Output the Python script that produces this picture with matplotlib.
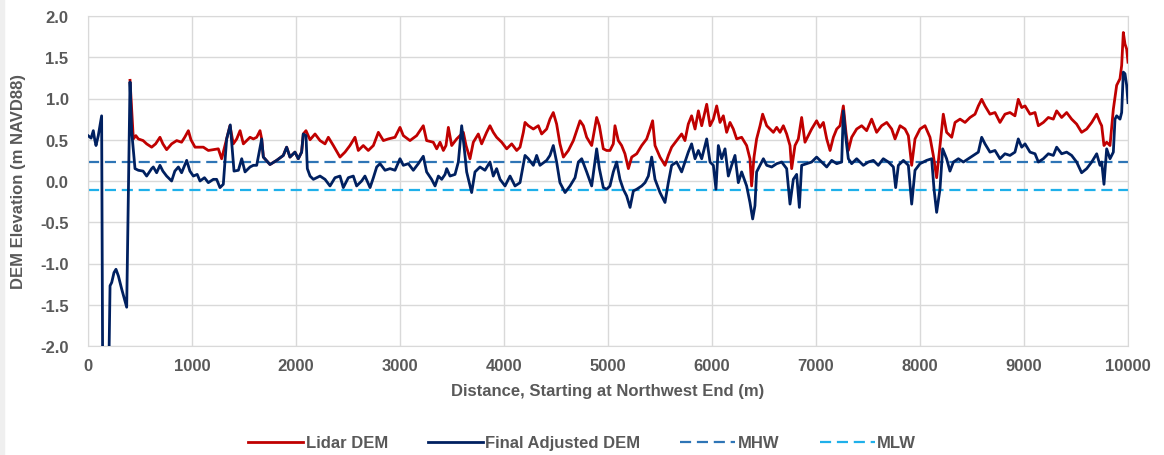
import matplotlib
matplotlib.use("Agg")
import matplotlib.pyplot as plt
from matplotlib.patches import Rectangle

# === DATA ===
adj_x = [0, 30, 51, 65, 77, 99, 131, 141, 200, 212, 228, 250, 269, 292, 324, 372, 404, 420,
         452, 484, 530, 564, 612, 628, 660, 692, 720, 756, 804, 835, 869, 900, 949, 980,
         1013, 1050, 1077, 1120, 1157, 1205, 1237, 1269, 1301, 1333, 1368, 1404, 1446, 1478,
         1510, 1558, 1590, 1622, 1670, 1686, 1750, 1814, 1878, 1910, 1942, 1990, 2022, 2054,
         2070, 2096, 2109, 2135, 2167, 2231, 2279, 2327, 2375, 2423, 2455, 2503, 2551, 2583,
         2631, 2663, 2712, 2744, 2776, 2808, 2856, 2904, 2952, 3000, 3032, 3080, 3128, 3176,
         3224, 3256, 3304, 3337, 3369, 3401, 3433, 3449, 3481, 3529, 3561, 3593, 3615, 3641,
         3689, 3721, 3769, 3817, 3865, 3897, 3929, 3962, 4010, 4058, 4106, 4154, 4202, 4234,
         4282, 4314, 4346, 4410, 4442, 4474, 4506, 4538, 4587, 4635, 4683, 4715, 4747, 4795,
         4843, 4891, 4917, 4955, 4987, 5019, 5051, 5083, 5115, 5147, 5179, 5212, 5244, 5276,
         5324, 5356, 5388, 5420, 5452, 5500, 5548, 5580, 5612, 5660, 5708, 5740, 5772, 5804,
         5837, 5869, 5901, 5949, 5981, 6013, 6038, 6061, 6093, 6125, 6157, 6189, 6221, 6253,
         6285, 6333, 6365, 6391, 6413, 6429, 6462, 6494, 6526, 6574, 6622, 6670, 6718, 6750,
         6782, 6814, 6840, 6862, 6910, 6958, 7006, 7055, 7103, 7151, 7199, 7247, 7263, 7288,
         7311, 7343, 7391, 7455, 7503, 7551, 7599, 7647, 7696, 7744, 7766, 7792, 7840, 7888,
         7920, 7952, 8000, 8064, 8112, 8135, 8160, 8192, 8218, 8256, 8288, 8321, 8369, 8417,
         8465, 8513, 8561, 8593, 8625, 8673, 8721, 8769, 8817, 8865, 8913, 8945, 8978, 9010,
         9058, 9106, 9138, 9186, 9234, 9282, 9314, 9362, 9410, 9458, 9506, 9554, 9603, 9651,
         9699, 9731, 9747, 9769, 9795, 9827, 9859, 9875, 9891, 9923, 9939, 9955, 9971, 9987,
         10000]
adj_y = [0.55, 0.52, 0.61, 0.50, 0.43, 0.55, 0.79, -2.3, -2.3, -1.27, -1.23, -1.11, -1.07, -1.15,
         -1.31, -1.53, 1.20, 0.60, 0.15, 0.13, 0.12, 0.06, 0.15, 0.17, 0.10, 0.19, 0.12, 0.06,
         0.00, 0.12, 0.17, 0.10, 0.25, 0.12, 0.06, 0.08, 0.00, 0.04, -0.02, 0.02, 0.02, -0.08,
         -0.04, 0.51, 0.68, 0.12, 0.13, 0.27, 0.11, 0.17, 0.19, 0.19, 0.51, 0.29, 0.20, 0.25,
         0.31, 0.41, 0.29, 0.35, 0.27, 0.35, 0.57, 0.55, 0.15, 0.06, 0.02, 0.06, 0.02, -0.06,
         0.04, 0.06, -0.08, 0.04, 0.06, -0.06, 0.00, 0.06, -0.08, 0.04, 0.17, 0.21, 0.13, 0.15,
         0.13, 0.27, 0.19, 0.21, 0.13, 0.21, 0.30, 0.11, 0.02, -0.06, 0.06, 0.02, 0.08, 0.15,
         0.06, 0.08, 0.23, 0.67, 0.43, 0.11, -0.14, 0.11, 0.17, 0.13, 0.23, 0.06, 0.15, 0.02,
         -0.06, 0.06, -0.06, -0.02, 0.31, 0.27, 0.19, 0.31, 0.19, 0.25, 0.31, 0.43, 0.23, -0.02,
         -0.14, -0.06, 0.04, 0.23, 0.27, 0.11, -0.06, 0.39, 0.15, -0.08, -0.10, -0.06, 0.11,
         0.23, 0.02, -0.10, -0.18, -0.32, -0.12, -0.10, -0.06, -0.02, 0.06, 0.29, 0.02, -0.14,
         -0.26, -0.02, 0.19, 0.23, 0.11, 0.23, 0.35, 0.45, 0.27, 0.37, 0.27, 0.51, 0.23, 0.19,
         -0.10, 0.43, 0.27, 0.39, 0.06, 0.19, 0.31, -0.02, 0.11, -0.06, -0.26, -0.46, -0.30,
         0.11, 0.19, 0.27, 0.19, 0.17, 0.21, 0.23, 0.15, -0.28, 0.02, 0.08, -0.32, 0.19, 0.21,
         0.23, 0.29, 0.23, 0.17, 0.25, 0.21, 0.23, 0.85, 0.51, 0.27, 0.21, 0.27, 0.19, 0.23,
         0.25, 0.19, 0.27, 0.23, 0.17, -0.08, 0.19, 0.25, 0.19, -0.28, 0.13, 0.21, 0.25, 0.27,
         -0.10, -0.38, -0.10, 0.39, 0.27, 0.12, 0.23, 0.27, 0.23, 0.27, 0.31, 0.35, 0.53, 0.45,
         0.35, 0.37, 0.27, 0.33, 0.31, 0.35, 0.51, 0.41, 0.45, 0.35, 0.33, 0.23, 0.27, 0.33,
         0.31, 0.41, 0.33, 0.35, 0.31, 0.23, 0.10, 0.15, 0.23, 0.33, 0.19, 0.23, -0.04, 0.39,
         0.27, 0.35, 0.75, 0.79, 0.75, 0.83, 1.32, 1.30, 1.16, 0.95]

lidar_x = [404, 436, 460, 484, 530, 564, 612, 650, 692, 720, 756, 804, 853, 900, 930, 965, 990,
           1029, 1077, 1109, 1157, 1205, 1253, 1285, 1301, 1340, 1365, 1397, 1430, 1462, 1494,
           1526, 1558, 1590, 1622, 1654, 1670, 1686, 1750, 1814, 1878, 1910, 1942, 1990, 2022,
           2054, 2070, 2096, 2135, 2183, 2231, 2279, 2311, 2359, 2423, 2471, 2519, 2567, 2599,
           2647, 2695, 2744, 2792, 2840, 2888, 2952, 3000, 3032, 3096, 3160, 3224, 3256, 3320,
           3353, 3385, 3417, 3442, 3465, 3497, 3545, 3577, 3609, 3635, 3673, 3705, 3753, 3785,
           3833, 3865, 3897, 3929, 3978, 4026, 4074, 4122, 4154, 4186, 4202, 4234, 4282, 4330,
           4362, 4410, 4442, 4474, 4506, 4538, 4571, 4619, 4667, 4699, 4731, 4763, 4795, 4843,
           4891, 4917, 4955, 4987, 5019, 5051, 5067, 5099, 5131, 5163, 5196, 5228, 5276, 5324,
           5372, 5404, 5429, 5452, 5500, 5548, 5580, 5612, 5660, 5708, 5740, 5772, 5804, 5837,
           5869, 5901, 5949, 5981, 6013, 6045, 6077, 6109, 6141, 6173, 6205, 6237, 6285, 6333,
           6365, 6381, 6404, 6429, 6462, 6487, 6526, 6558, 6590, 6622, 6654, 6686, 6718, 6750,
           6766, 6798, 6830, 6862, 6894, 6926, 6958, 7006, 7038, 7071, 7103, 7135, 7167, 7199,
           7231, 7263, 7288, 7311, 7343, 7391, 7439, 7487, 7535, 7583, 7631, 7680, 7728, 7760,
           7808, 7856, 7888, 7920, 7952, 8000, 8048, 8096, 8128, 8160, 8192, 8224, 8256, 8305,
           8337, 8385, 8433, 8481, 8529, 8561, 8593, 8625, 8673, 8721, 8769, 8817, 8865, 8913,
           8945, 8978, 9010, 9058, 9106, 9138, 9186, 9234, 9282, 9314, 9362, 9410, 9458, 9506,
           9554, 9603, 9651, 9699, 9731, 9747, 9769, 9795, 9827, 9859, 9891, 9923, 9939, 9955,
           9971, 9987, 10000]
lidar_y = [1.22, 0.51, 0.55, 0.51, 0.49, 0.45, 0.41, 0.45, 0.53, 0.45, 0.38, 0.45, 0.49, 0.47,
           0.53, 0.61, 0.50, 0.41, 0.41, 0.41, 0.37, 0.38, 0.39, 0.27, 0.35, 0.55, 0.67, 0.45,
           0.51, 0.61, 0.45, 0.49, 0.53, 0.51, 0.53, 0.61, 0.51, 0.29, 0.20, 0.25, 0.31, 0.41,
           0.29, 0.35, 0.27, 0.35, 0.57, 0.61, 0.50, 0.57, 0.49, 0.45, 0.53, 0.43, 0.29, 0.35,
           0.43, 0.53, 0.37, 0.43, 0.37, 0.43, 0.59, 0.49, 0.51, 0.53, 0.65, 0.55, 0.49, 0.55,
           0.67, 0.49, 0.47, 0.39, 0.47, 0.37, 0.43, 0.65, 0.43, 0.51, 0.55, 0.59, 0.43, 0.27,
           0.47, 0.57, 0.45, 0.59, 0.67, 0.59, 0.53, 0.47, 0.39, 0.45, 0.37, 0.41, 0.59, 0.71,
           0.67, 0.63, 0.67, 0.57, 0.63, 0.75, 0.83, 0.69, 0.45, 0.29, 0.37, 0.49, 0.61, 0.73,
           0.67, 0.53, 0.43, 0.77, 0.67, 0.39, 0.37, 0.37, 0.45, 0.67, 0.49, 0.43, 0.33, 0.15,
           0.29, 0.33, 0.43, 0.51, 0.63, 0.73, 0.43, 0.29, 0.19, 0.31, 0.41, 0.49, 0.57, 0.49,
           0.69, 0.79, 0.63, 0.85, 0.67, 0.93, 0.67, 0.75, 0.91, 0.71, 0.79, 0.59, 0.71, 0.63,
           0.51, 0.53, 0.43, 0.27, -0.06, 0.29, 0.51, 0.67, 0.81, 0.67, 0.63, 0.59, 0.65, 0.59,
           0.67, 0.57, 0.43, 0.15, 0.43, 0.51, 0.77, 0.47, 0.55, 0.63, 0.73, 0.65, 0.71, 0.51,
           0.37, 0.53, 0.63, 0.67, 0.91, 0.59, 0.37, 0.53, 0.63, 0.67, 0.61, 0.75, 0.59, 0.67,
           0.71, 0.63, 0.51, 0.67, 0.63, 0.55, 0.19, 0.51, 0.63, 0.67, 0.53, 0.31, 0.04, 0.43,
           0.81, 0.59, 0.53, 0.71, 0.75, 0.71, 0.77, 0.81, 0.91, 0.99, 0.91, 0.81, 0.83, 0.71,
           0.81, 0.83, 0.79, 0.99, 0.89, 0.91, 0.81, 0.83, 0.67, 0.71, 0.77, 0.75, 0.85, 0.77,
           0.83, 0.75, 0.69, 0.59, 0.63, 0.71, 0.81, 0.71, 0.67, 0.43, 0.47, 0.43, 0.87, 1.16,
           1.24, 1.40, 1.80, 1.66, 1.60, 1.44]

MHW = 0.23
MLW = -0.11

# === STYLE ===
TXT = "#595959"
plt.rcParams["font.family"] = ["Liberation Sans", "DejaVu Sans"]
plt.rcParams["font.weight"] = "bold"

fig = plt.figure(figsize=(11.64, 4.56), dpi=100)
fig.add_artist(Rectangle((0, 0), 4 / 1164, 1, transform=fig.transFigure,
                         color="#efefef", zorder=0))
ax = fig.add_axes([88 / 1164, 1 - 347 / 456, 1040 / 1164, 330 / 456])

ax.plot(lidar_x, lidar_y, color="#c00000", lw=2.0, label="Lidar DEM", zorder=3)
ax.plot(adj_x, adj_y, color="#002060", lw=2.0, label="Final Adjusted DEM", zorder=4)
ax.axhline(MHW, color="#2e75b6", lw=1.6, ls=(0, (5, 2.6)), label="MHW", zorder=2)
ax.axhline(MLW, color="#1fb0ea", lw=1.6, ls=(0, (5, 2.6)), label="MLW", zorder=2)

ax.set_xlim(0, 10000)
ax.set_ylim(-2.0, 2.0)
ax.set_xticks(range(0, 10001, 1000))
ax.set_yticks([-2.0, -1.5, -1.0, -0.5, 0.0, 0.5, 1.0, 1.5, 2.0])
ax.set_yticklabels([f"{v:.1f}" for v in ax.get_yticks()])
ax.grid(True, color="#d9d9d9", lw=1)
ax.set_axisbelow(True)
for s in ax.spines.values():
    s.set_color("#d9d9d9")
ax.tick_params(length=0, labelsize=12, labelcolor=TXT)
ax.tick_params(axis="y", pad=14)
ax.tick_params(axis="x", pad=9)
for lab in ax.get_xticklabels() + ax.get_yticklabels():
    lab.set_fontweight("bold")

ax.set_xlabel("Distance, Starting at Northwest End (m)", fontsize=12, color=TXT,
              fontweight="bold", labelpad=7)
ax.set_ylabel("DEM Elevation (m NAVD88)", fontsize=12, color=TXT,
              fontweight="bold", labelpad=10)

leg = fig.legend(loc="center", bbox_to_anchor=(0.5, 1 - 444 / 456), ncol=4, frameon=False,
                 fontsize=12, handlelength=3.3, columnspacing=2.4, handletextpad=0.15)
for t in leg.get_texts():
    t.set_color(TXT)
    t.set_fontweight("bold")

fig.savefig("out.png", dpi=100)
